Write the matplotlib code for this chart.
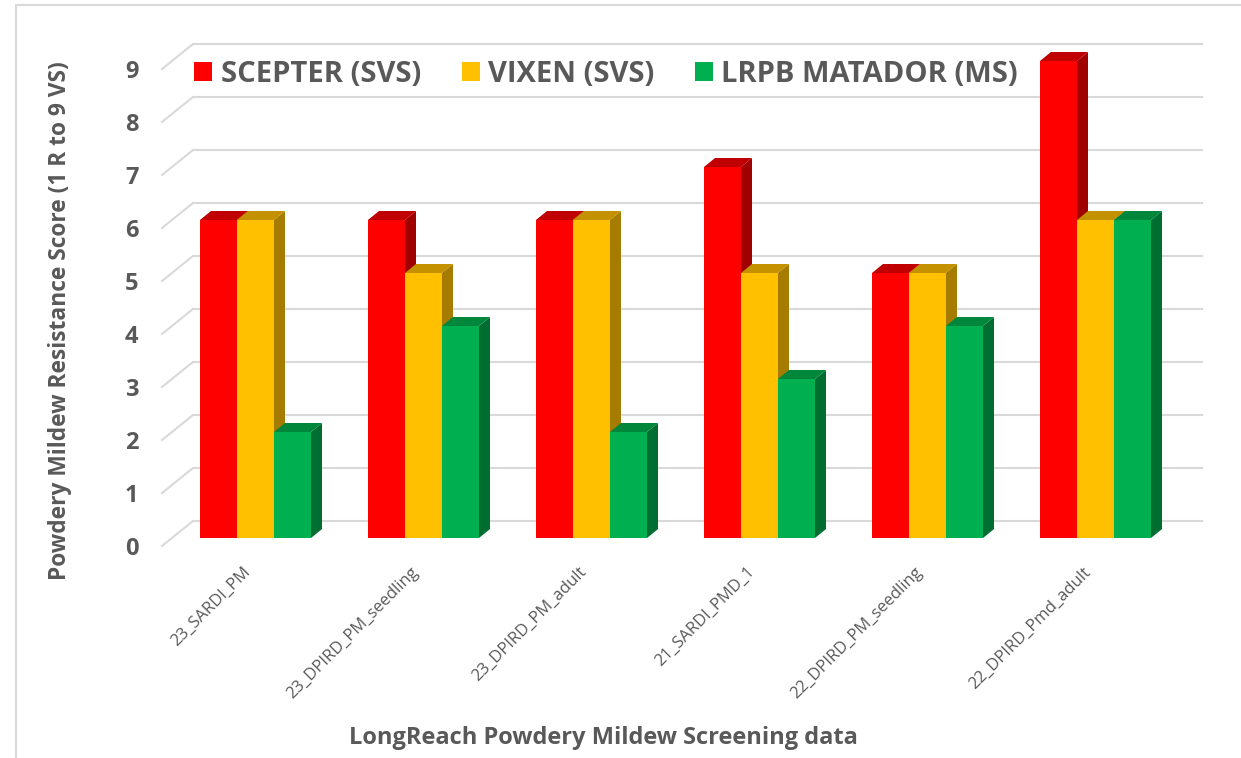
import numpy as np
import matplotlib
matplotlib.use("Agg")
import matplotlib.pyplot as plt
from matplotlib.patches import Polygon, Rectangle
from matplotlib.lines import Line2D
import matplotlib.transforms as mtransforms

# ---- data ----
categories = ["23_SARDI_PM", "23_DPIRD_PM_seedling", "23_DPIRD_PM_adult",
              "21_SARDI_PMD_1", "22_DPIRD_PM_seedling", "22_DPIRD_Pmd_adult"]
series_names = ["SCEPTER (SVS)", "VIXEN (SVS)", "LRPB MATADOR (MS)"]
scepter = [6, 6, 6, 7, 5, 9]
vixen = [6, 5, 6, 5, 5, 6]
matador = [2, 4, 2, 3, 4, 6]
y_ticks = list(range(0, 10))
y_label = "Powdery Mildew Resistance Score (1 R to 9 VS)"
x_label = "LongReach Powdery Mildew Screening data"

series_values = [scepter, vixen, matador]
front_colors = ["#FF0000", "#FFC000", "#00B050"]
top_colors = ["#C00000", "#C49200", "#00873C"]
side_colors = ["#A00000", "#A67C00", "#006E30"]

TEXT = "#595959"
GRID = "#D9D9D9"
FONT = "Open Sans"

W, H = 1241, 758
fig = plt.figure(figsize=(W / 100, H / 100), dpi=100)

# pixel geometry of the plot box
px_left, px_right, px_bottom, px_top = 162, 1202, 546, 44
unit_px = 53.0          # pixels per score unit
cat_px = 168.0          # pixels per category
center0_px = 255.5      # centre of first group
edge_off = 8 / unit_px  # floor front edge below bar front
wall_dy = 17 / unit_px  # back wall above bar front
wall_dx = 31 / cat_px   # back wall shift (from front edge)
bar_dx = 11 / cat_px    # bar depth (x)
bar_dy = 9 / unit_px    # bar depth (y)
bar_w = 37 / cat_px

ax = fig.add_axes([px_left / W, (H - px_bottom) / H,
                   (px_right - px_left) / W, (px_bottom - px_top) / H])
ax.set_xlim((px_left - center0_px) / cat_px, (px_right - center0_px) / cat_px)
ax.set_ylim(-edge_off, 9 + wall_dy)
for s in ax.spines.values():
    s.set_visible(False)
ax.set_facecolor("none")

xl = (px_left - center0_px) / cat_px
xr = (px_right - center0_px) / cat_px

# gridlines: left wall diagonals + back wall horizontals
for v in y_ticks:
    ax.add_line(Line2D([xl, xl + wall_dx], [v - edge_off, v + wall_dy],
                       color=GRID, lw=1.5, zorder=1, clip_on=False))
    ax.add_line(Line2D([xl + wall_dx, xr], [v + wall_dy, v + wall_dy],
                       color=GRID, lw=1.5, zorder=1, clip_on=False))

x = np.arange(len(categories))
offsets = [-bar_w, 0.0, bar_w]
z = 2
for gi in range(len(categories)):
    for si, vals in enumerate(series_values):
        v = vals[gi]
        xc = x[gi] + offsets[si]
        x0, x1 = xc - bar_w / 2, xc + bar_w / 2
        side = Polygon([(x1, 0), (x1 + bar_dx, bar_dy), (x1 + bar_dx, v + bar_dy), (x1, v)],
                       closed=True, facecolor=side_colors[si], edgecolor="none", zorder=z)
        top = Polygon([(x0, v), (x0 + bar_dx, v + bar_dy), (x1 + bar_dx, v + bar_dy), (x1, v)],
                      closed=True, facecolor=top_colors[si], edgecolor="none", zorder=z + 0.1)
        ax.add_patch(side)
        ax.add_patch(top)
        ax.bar(xc, v, width=bar_w, color=front_colors[si], zorder=z + 0.2,
               label=series_names[si] if gi == 0 else None)
        z += 1

# y tick labels at the floor front edge
ax.set_yticks(np.array(y_ticks) - edge_off)
ax.set_yticklabels([str(t) for t in y_ticks], fontsize=17, fontweight="bold",
                   color=TEXT, family=FONT)
ax.tick_params(axis="y", length=0, pad=17)

# x tick labels
ax.set_xticks(x)
ax.set_xticklabels(categories, rotation=45, ha="right", va="top",
                   rotation_mode="anchor", fontsize=12, color=TEXT, family=FONT)
ax.tick_params(axis="x", length=0, pad=13)
shift = mtransforms.ScaledTranslation(-13 / 100, 0, fig.dpi_scale_trans)
for lab in ax.get_xticklabels():
    lab.set_transform(lab.get_transform() + shift)

# axis titles
fig.text(60 / W, 1 - 321 / H, y_label, rotation=90, ha="center", va="center",
         fontsize=16.4, fontweight="bold", color=TEXT, family=FONT)
fig.text(603 / W, 1 - 738 / H, x_label, ha="center", va="center",
         fontsize=17, fontweight="bold", color=TEXT, family=FONT)

# legend
leg = fig.legend(loc="center left", bbox_to_anchor=(171 / W, 1 - 74 / H),
                 ncol=3, frameon=False, handlelength=0.62,
                 handleheight=0.62, handletextpad=0.28, columnspacing=1.4,
                 borderpad=0.3, prop={"family": FONT, "weight": "bold", "size": 21})
for t in leg.get_texts():
    t.set_color(TEXT)

# chart border (top and left visible)
fig.add_artist(Rectangle((16 / W, -0.1), 1.2, (H - 5) / H + 0.1,
                         transform=fig.transFigure, fill=False,
                         edgecolor=GRID, lw=1.5))

fig.savefig("out.png", dpi=100, facecolor="white")
